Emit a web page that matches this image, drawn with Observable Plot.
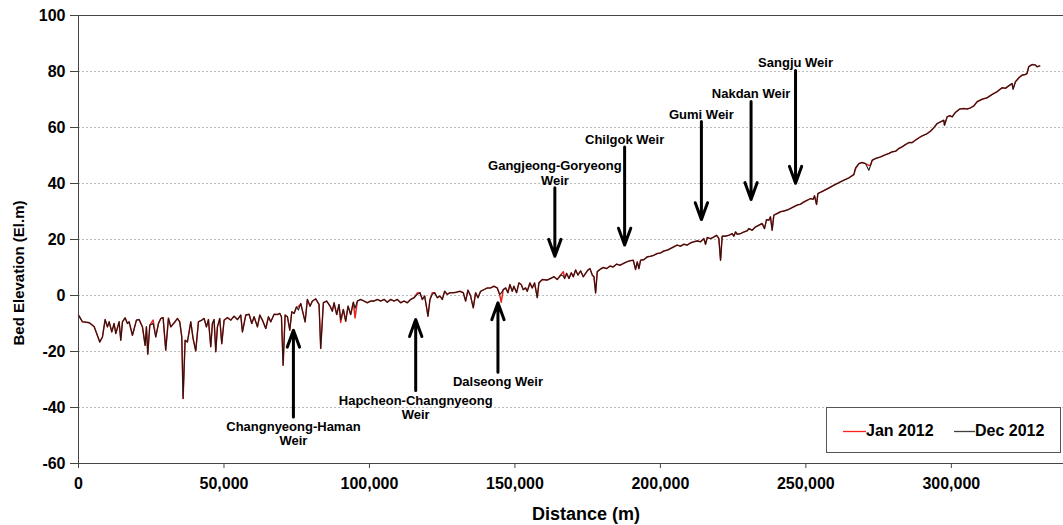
<!DOCTYPE html>
<html>
<head>
<meta charset="utf-8">
<script src="https://cdn.jsdelivr.net/npm/d3@7"></script>
<script src="https://cdn.jsdelivr.net/npm/@observablehq/plot@0.6"></script>
<style>
  body { margin: 0; background: #fff; font-family: "Liberation Sans", Arial, sans-serif; }
  #wrap { position: relative; width: 1063px; height: 525px; overflow: hidden; }
  .ytitle { position: absolute; left: 18px; top: 273px; transform: translate(-50%, -50%) rotate(-90deg);
            font-weight: bold; font-size: 15px; white-space: nowrap; color: #000; }
  .xtitle { position: absolute; left: 586px; top: 514px; transform: translate(-50%, -50%);
            font-weight: bold; font-size: 18px; white-space: nowrap; color: #000; }
  .legend { position: absolute; left: 826px; top: 407px; width: 235px; height: 46px;
            border: 1px solid #555; box-sizing: border-box; background: #fff; }
  .legend svg { position: absolute; left: 0; top: 0; }
  .legend .lt { position: absolute; display: block; top: 14px; font-weight: bold; font-size: 16px; line-height: 18px; color: #000; }
</style>
</head>
<body>
<div id="wrap">
  <div id="chart"></div>
  <div class="ytitle">Bed Elevation (El.m)</div>
  <div class="xtitle">Distance (m)</div>
  <div class="legend">
    <svg width="233" height="44"><line x1="16" x2="39" y1="23.5" y2="23.5" stroke="#ff1f1f" stroke-width="1.3"/><line x1="127" x2="148" y1="23.5" y2="23.5" stroke="#404040" stroke-width="1.3"/></svg>
    <span class="lt" style="left:39px">Jan 2012</span>
    <span class="lt" style="left:148px">Dec 2012</span>
  </div>
</div>
<script>
// ---- Data ----
const distance = [
  0, 1360, 3650, 5370, 7320, 8240, 9150, 9950, 10530, 11440,
  12240, 12820, 13960, 14530, 15110, 16020, 16820, 17400, 18540, 19920,
  20830, 21980, 22900, 23350, 23810, 24500, 25640, 26560, 27480, 28280,
  29080, 29990, 30910, 31720, 32860, 34000, 34800, 35500, 35950, 36640,
  37440, 38590, 39390, 40300, 41220, 42370, 43170, 43970, 44660, 45460,
  46030, 46600, 47180, 47750, 48550, 49240, 50050, 51190, 52340, 53480,
  54630, 55770, 56350, 57490, 58640, 59560, 60360, 61500, 62310, 63220,
  64370, 65290, 66090, 67240, 68380, 69180, 69760, 70330, 71020, 71820,
  72620, 73310, 74110, 74910, 75600, 76400, 77200, 77890,
  78670, 79590, 80390, 81530, 82680, 83250, 84170, 85310, 86460, 87260,
  87830, 88750, 89550, 90120, 91040, 91840, 92640, 93560, 94470, 95050,
  95850, 96990, 98140, 99280, 100430, 101570, 102720, 103860, 105010, 106150,
  107300, 108440, 109590, 110730, 111880, 113020, 114170, 115310, 116460, 117370,
  118170, 118980, 119660, 120120, 120810, 121610, 122410, 123330, 124240, 125040,
  125850, 126760, 127680, 128820, 129970, 131110, 132260, 133060, 133860, 134780,
  135690, 136500, 137300, 138210, 139360, 140500, 141650, 142790, 143940, 144740,
  145310, 146000, 146800, 147600, 148290, 149090, 149660, 150580, 151380, 152180,
  152870, 153670, 154240, 155160, 155960, 156760, 157680, 158250, 159390, 161110,
  163430, 164570, 165720, 166630, 167090, 167780, 168580, 169380, 170070, 170870,
  171670, 172590, 173500, 174300, 175100, 175790, 176590, 177170, 177740, 178310,
  179230, 180370, 181520, 182660, 183810, 184950, 186100, 187240, 188390, 189530,
  190680, 191480, 192050, 192620, 193200, 194340, 195490, 196630, 197780, 198920,
  200070, 201210, 202360, 203500, 204650, 205790, 206940, 208080, 209230, 210370,
  211520, 212660, 213810, 214950, 215520, 216100, 217240, 218390, 219300, 220100,
  220680, 221250, 222390, 223540, 224680, 225250, 225830, 226400, 227540, 228690,
  229830, 230410, 231550, 232700, 233840, 234990, 235790, 236480, 237280, 237850,
  238420, 239000, 240140, 241290, 242430, 243580, 244720, 245870, 247010, 248160,
  249300, 250450, 251590,
  252530, 252990, 253680, 254130, 255280, 256420, 257910, 259630, 261350, 263060,
  264780, 266500, 267070, 268220, 269360, 270510, 271650, 272230, 272800, 273940,
  275660, 277380, 278520, 279670, 280810, 281960, 283100, 284250, 285390, 286540,
  287680, 288830, 289970, 291690, 292840, 293980, 295130, 296270, 297420, 297640,
  298560, 299480, 300280, 301420, 302910, 304290, 305430, 306580, 307720, 308870,
  310580, 312300, 314020, 315740, 317450, 318600, 319740, 320890, 321230, 322030,
  323180, 324320, 325470, 326040, 326610, 327760, 328900, 329480, 330390
];

const elevationDec2012 = [
  -7.0, -9.4, -9.7, -11.1, -16.6, -14.8, -8.6, -11.2, -9.4, -13.0,
  -10.0, -13.6, -9.4, -16.0, -9.4, -8.0, -10.0, -9.4, -14.2, -8.8,
  -8.6, -11.2, -17.8, -11.2, -21.0, -10.6, -10.0, -14.8, -10.0, -8.2,
  -7.9, -19.5, -8.2, -11.2, -9.8, -8.2, -9.4, -14.8, -36.8, -16.0,
  -16.6, -9.4, -15.4, -19.8, -9.4, -8.8, -8.2, -11.2, -8.6, -18.3,
  -10.0, -8.6, -20.1, -11.2, -8.2, -17.2, -8.8, -7.9, -8.8, -7.4,
  -8.6, -7.0, -13.0, -7.0, -6.7, -10.0, -7.6, -11.2, -7.0, -8.8,
  -11.8, -7.6, -9.4, -6.7, -6.8, -6.4, -7.6, -24.9, -7.0, -7.6,
  -12.4, -5.8, -6.4, -4.1, -5.2, -2.9, -6.4, -9.4,
  -1.4, -3.8, -2.0, -1.2, -3.2, -18.9, -2.6, -2.0, -3.8, -5.6,
  -2.6, -6.8, -3.2, -8.6, -5.0, -9.2, -3.8, -6.8, -2.4, -4.5,
  -2.0, -1.4, -2.0, -2.6, -2.0, -2.0, -1.4, -2.0, -1.4, -2.4,
  -1.4, -2.0, -1.4, -2.6, -2.0, -2.6, -1.4, -0.8, 0.4, 1.0,
  -1.4, -0.2, -4.4, -7.4, -1.4, 0.4, 1.0, -0.8, -0.2, -1.4,
  1.5, 0.4, 1.0, 1.0, 1.2, 1.5, 1.0, -2.0, 1.9, -0.2,
  -4.4, 1.0, -0.8, 1.5, 2.1, 2.7, 2.7, 3.3, 2.7, 0.4,
  0.9, 2.1, 2.7, 1.0, 3.9, 1.5, 3.3, 1.0, 4.5, 3.9,
  2.1, 2.7, 1.5, 4.5, 2.7, 4.5, -0.8, 4.5, 5.7, 5.5,
  6.7, 5.7, 7.3, 7.0, 6.1, 7.9, 6.1, 8.1, 6.7, 9.1,
  7.3, 8.8, 6.7, 7.9, 9.1, 9.6, 7.3, 6.7, 0.9, 8.5,
  9.3, 10.0, 9.6, 10.5, 10.2, 11.2, 10.8, 11.4, 12.0, 12.4,
  12.6, 9.3, 12.0, 9.6, 12.6, 12.8, 13.8, 14.0, 14.4, 15.0,
  15.2, 15.9, 16.2, 16.8, 17.4, 18.0, 17.6, 18.3, 18.0, 18.8,
  19.2, 19.5, 19.2, 20.3, 18.3, 20.7, 20.3, 20.9, 21.5, 20.3,
  12.6, 21.2, 21.2, 21.5, 22.1, 21.2, 22.7, 21.9, 22.1, 22.7,
  23.1, 23.9, 23.3, 24.5, 25.1, 25.7, 23.9, 27.1, 26.9, 28.1,
  23.3, 28.7, 29.3, 29.9, 30.2, 30.5, 31.1, 31.7, 32.3, 32.6,
  33.4, 34.0, 34.6,
  34.4, 35.6, 32.5, 36.4, 37.0, 37.6, 38.4, 39.4, 40.3, 41.2,
  42.0, 43.2, 45.6, 47.1, 47.5, 47.1, 44.7, 46.5, 48.3, 48.9,
  49.5, 50.3, 50.7, 51.3, 51.5, 52.5, 53.1, 53.9, 54.6, 54.6,
  55.5, 56.3, 57.0, 57.8, 58.7, 59.9, 61.4, 62.0, 62.6, 60.8,
  63.8, 64.2, 63.8, 65.4, 66.6, 66.8, 66.6, 67.0, 67.7, 69.2,
  70.1, 70.6, 71.8, 72.8, 74.2, 74.0, 74.9, 75.7, 73.7, 76.3,
  77.7, 78.7, 78.9, 79.3, 81.7, 82.5, 82.3, 81.7, 82.0
];

const elevationJan2012 = [
  -7.0, -9.4, -9.7, -11.1, -16.6, -14.8, -8.6, -11.2, -9.4, -13.0,
  -10.0, -13.6, -9.4, -16.0, -9.4, -8.0, -10.0, -9.4, -14.2, -8.8,
  -8.6, -11.2, -17.8, -11.2, -21.0, -10.6, -8.8, -14.8, -10.0, -8.2,
  -7.9, -19.5, -8.0, -11.2, -9.8, -8.2, -9.4, -14.8, -36.8, -16.0,
  -16.6, -9.4, -15.4, -19.8, -9.4, -8.8, -8.2, -11.2, -8.6, -18.3,
  -10.0, -8.6, -20.1, -11.2, -8.2, -17.2, -8.8, -7.9, -8.8, -7.4,
  -8.6, -7.0, -13.0, -7.0, -6.7, -10.0, -7.6, -11.2, -7.0, -8.8,
  -11.8, -7.6, -9.4, -6.7, -6.8, -6.4, -7.6, -24.9, -7.0, -7.6,
  -12.4, -5.8, -6.4, -4.1, -4.0, -2.9, -6.4, -9.4,
  -1.4, -3.8, -2.0, -1.2, -3.2, -18.9, -2.6, -2.0, -3.8, -5.6,
  -2.6, -6.8, -3.2, -9.6, -5.0, -9.2, -3.8, -6.8, -2.4, -8.0,
  -2.0, -1.4, -2.0, -2.6, -2.0, -2.0, -1.4, -2.0, -1.4, -2.4,
  -1.4, -2.0, -1.4, -2.6, -2.0, -2.6, -1.4, -0.8, 0.9, 1.0,
  -1.4, -0.2, -4.4, -7.4, -1.4, 1.0, 1.0, -0.8, -0.2, -1.4,
  1.5, 0.4, 1.0, 1.0, 1.2, 1.5, 1.0, -2.0, 1.9, -0.2,
  -4.4, 1.0, -0.8, 1.5, 2.1, 2.7, 2.7, 3.3, 2.7, 0.4,
  -2.4, 2.1, 2.7, 1.0, 3.9, 1.5, 3.3, 1.0, 4.5, 3.9,
  2.1, 2.7, 1.5, 4.5, 2.7, 4.5, -0.8, 4.5, 5.7, 5.5,
  6.7, 5.7, 7.3, 8.5, 6.1, 7.9, 6.1, 8.1, 6.7, 9.1,
  7.3, 8.8, 6.7, 7.9, 9.1, 9.6, 7.3, 6.7, 0.9, 8.5,
  9.3, 10.0, 9.6, 10.5, 10.2, 11.2, 10.8, 11.4, 12.0, 12.4,
  12.6, 9.3, 12.0, 9.6, 12.6, 12.8, 13.8, 14.0, 14.4, 15.0,
  15.2, 15.9, 16.2, 16.8, 17.4, 18.0, 17.6, 18.3, 18.0, 18.8,
  19.2, 19.5, 19.2, 20.3, 18.3, 20.7, 20.3, 20.9, 21.5, 20.3,
  12.6, 21.2, 21.2, 21.5, 22.1, 21.2, 22.7, 21.9, 22.1, 22.7,
  23.1, 23.9, 23.3, 24.5, 25.1, 25.7, 23.9, 27.1, 26.9, 28.1,
  23.3, 28.7, 29.3, 29.9, 30.2, 30.5, 31.1, 31.7, 32.3, 32.6,
  33.4, 34.0, 34.6,
  34.4, 35.6, 32.5, 36.4, 37.0, 37.6, 38.4, 39.4, 40.3, 41.2,
  42.0, 43.2, 45.2, 47.1, 47.5, 47.1, 46.5, 46.5, 48.3, 48.9,
  49.5, 50.3, 50.7, 51.3, 51.5, 52.5, 53.1, 53.9, 54.6, 54.6,
  55.5, 56.3, 57.0, 57.8, 58.7, 59.9, 61.4, 62.0, 62.6, 60.8,
  63.8, 64.2, 63.8, 65.4, 66.6, 66.8, 66.6, 67.0, 67.7, 69.2,
  70.1, 70.6, 71.8, 72.8, 74.2, 74.0, 74.9, 75.7, 73.7, 76.3,
  77.7, 78.7, 78.9, 79.3, 81.7, 82.5, 82.3, 81.7, 82.0
];

// Weir annotations (distance in m, arrow tip and tail in El.m)
const weirNames = ["Changnyeong-Haman\nWeir", "Hapcheon-Changnyeong\nWeir", "Dalseong Weir",
                   "Gangjeong-Goryeong\nWeir", "Chilgok Weir", "Gumi Weir", "Nakdan Weir", "Sangju Weir"];
const weirDistance = [73870, 115900, 144170, 163730, 187710, 214100, 231170, 246460];
const weirArrowTip = [-12.4, -8.6, -2.6, 14.0, 18.0, 27.1, 34.3, 40.1];
const weirArrowTail = [-43.4, -33.9, -27.4, 38.5, 53.0, 62.1, 69.3, 80.4];

const xTicks = [0, 50000, 100000, 150000, 200000, 250000, 300000];
const yTicks = [-60, -40, -20, 0, 20, 40, 60, 80, 100];
const gridTicks = [-40, -20, 0, 20, 40, 60, 80];

// ---- Build tables ----
const jan = distance.map((d, i) => ({x: d, y: elevationJan2012[i]}));
const dec = distance.map((d, i) => ({x: d, y: elevationDec2012[i]}));
const weirs = weirNames.map((n, i) => ({name: n, x: weirDistance[i], tip: weirArrowTip[i], tail: weirArrowTail[i]}));
const weirsAbove = weirs.filter(w => w.tail > w.tip);
const weirsBelow = weirs.filter(w => w.tail < w.tip);

const fmt = d3.format(",");

const chart = Plot.plot({
  width: 1063,
  height: 525,
  marginLeft: 78,
  marginRight: 0,
  marginTop: 15,
  marginBottom: 62,
  style: {fontFamily: "'Liberation Sans', Arial, sans-serif", fontSize: "16px", fontWeight: "bold", color: "#000", background: "#fff", overflow: "hidden"},
  x: {domain: [0, 338560], label: null},
  y: {domain: [-60, 100], label: null},
  marks: [
    Plot.gridY(gridTicks, {stroke: "#bdbdbd", strokeOpacity: 1, strokeDasharray: "2,2"}),
    Plot.ruleY([100], {stroke: "#444"}),
    Plot.axisX(xTicks, {tickSize: 5, tickPadding: 9, tickFormat: fmt, label: null, stroke: "#444", fill: "#000"}),
    Plot.axisY(yTicks, {tickSize: 8, tickPadding: 5, tickFormat: d => String(d), label: null, stroke: "#444", fill: "#000"}),
    Plot.line(jan, {x: "x", y: "y", stroke: "#e52421", strokeWidth: 1.5}),
    Plot.line(dec, {x: "x", y: "y", stroke: "#231815", strokeWidth: 1.1}),
    Plot.ruleX([0], {stroke: "#444"}),
    Plot.ruleY([-60], {stroke: "#444"}),
    Plot.arrow(weirs, {x1: "x", x2: "x", y1: "tail", y2: "tip", stroke: "#000", strokeWidth: 3, headLength: 9, headAngle: 40}),
    Plot.text(weirsAbove, {x: "x", y: "tail", text: "name", lineAnchor: "bottom", dy: -3, fontSize: 13, fontWeight: "bold", fill: "#000", lineHeight: 1.1}),
    Plot.text(weirsBelow, {x: "x", y: "tail", text: "name", lineAnchor: "top", dy: 4, fontSize: 13, fontWeight: "bold", fill: "#000", lineHeight: 1.1})
  ]
});
document.getElementById("chart").appendChild(chart);
</script>
</body>
</html>
